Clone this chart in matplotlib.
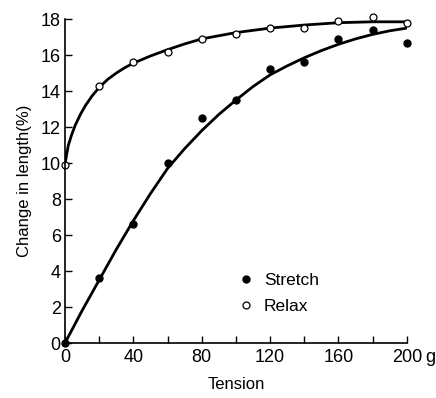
import numpy as np
import matplotlib
matplotlib.use("Agg")
import matplotlib.pyplot as plt

plt.rcParams['font.family'] = ['Liberation Sans', 'DejaVu Sans']

# measured points
tension = [0, 20, 40, 60, 80, 100, 120, 140, 160, 180, 200]
stretch = [0.0, 3.6, 6.6, 10.0, 12.5, 13.5, 15.2, 15.6, 16.9, 17.4, 16.7]
relax = [9.9, 14.3, 15.6, 16.2, 16.9, 17.2, 17.5, 17.5, 17.9, 18.1, 17.8]

# fitted curves
stretch_fit_x = [0, 10, 20, 30, 40, 50, 60, 70, 80, 90, 100, 110, 120, 130, 140, 150, 160, 170, 180, 190, 200]
stretch_fit_y = [0.0, 1.8, 3.5, 5.2, 6.8, 8.3, 9.7, 10.8, 11.8, 12.7, 13.5, 14.25, 14.9, 15.4, 15.85, 16.25, 16.6, 16.9, 17.15, 17.35, 17.5]
relax_fit_x = [0, 1, 2, 4, 6, 9, 12, 16, 20, 25, 30, 35, 40, 50, 60, 70, 80, 100, 120, 140, 160, 180, 200]
relax_fit_y = [9.9, 10.5, 11.0, 11.6, 12.1, 12.7, 13.2, 13.75, 14.2, 14.65, 15.0, 15.3, 15.55, 15.95, 16.3, 16.62, 16.9, 17.25, 17.5, 17.67, 17.8, 17.85, 17.85]

fig = plt.figure(figsize=(4.36, 3.98), dpi=100)
ax = fig.add_axes([0.149, 0.138, 0.784, 0.814])

ax.plot(stretch_fit_x, stretch_fit_y, 'k-', lw=2)
ax.plot(relax_fit_x, relax_fit_y, 'k-', lw=2)
ax.plot(tension, stretch, 'o', color='k', ms=5, clip_on=False, label='Stretch')
ax.plot(tension, relax, 'o', mfc='white', mec='k', mew=0.9, ms=5, clip_on=False, label='Relax')

ax.set_xlim(0, 200)
ax.set_ylim(0, 18)
ax.spines['top'].set_visible(False)
ax.spines['right'].set_visible(False)
ax.spines['left'].set_linewidth(1.2)
ax.spines['bottom'].set_linewidth(1.2)

ax.set_xticks([0, 40, 80, 120, 160, 200])
ax.set_xticks(np.arange(20, 200, 40), minor=True)
ax.set_yticks(np.arange(0, 19, 2))
ax.tick_params(direction='in', length=5, width=1, labelsize=13)
ax.tick_params(axis='y', pad=3)
ax.tick_params(axis='x', pad=4)
ax.tick_params(axis='x', which='minor', direction='in', length=5, width=1)
# unit after the last tick label
ax.annotate('g', xy=(200, 0), xycoords='data', xytext=(13, -4),
            textcoords='offset points', ha='left', va='top', fontsize=13)

ax.set_xlabel('Tension', fontsize=12, labelpad=8)
ax.set_ylabel('Change in length(%)', fontsize=12, labelpad=6)

ax.legend(loc='lower left', bbox_to_anchor=(0.47, 0.04), frameon=False,
          fontsize=12.5, handlelength=0.6, handletextpad=0.7, labelspacing=0.65,
          markerscale=1.0)

fig.savefig('out.png', dpi=100)
